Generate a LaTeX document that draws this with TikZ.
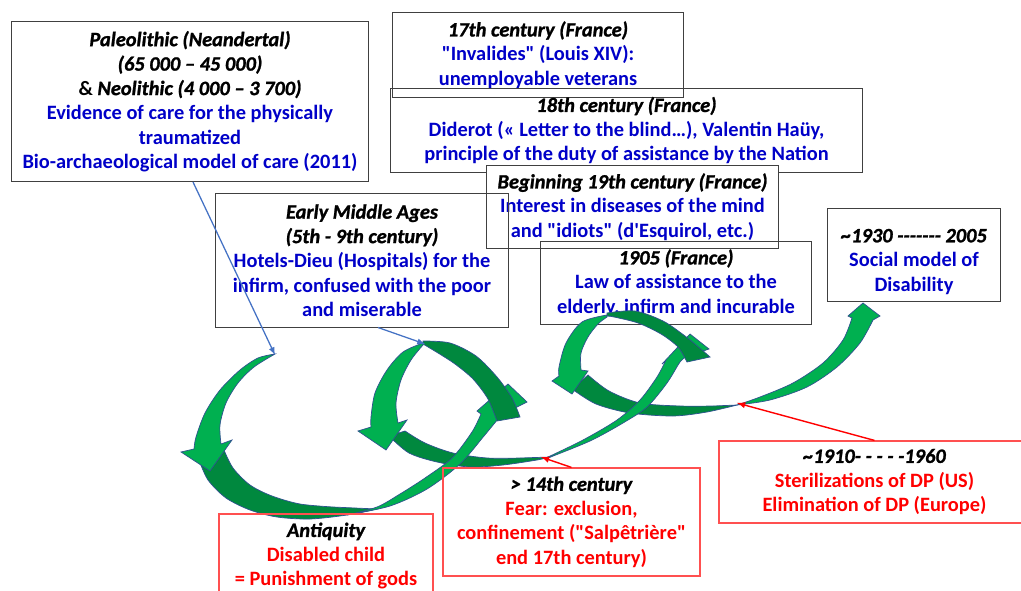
\documentclass[tikz,border=0pt]{standalone}
\usepackage{fontspec}
\setmainfont{Carlito}[Ligatures=TeXOff]
\newfontfamily\erafont{Carlito Bold Italic}[Ligatures=TeXOff, FakeBold=1.2]
\definecolor{txtblue}{RGB}{0,0,200}
\definecolor{txtred}{RGB}{255,0,0}
\definecolor{lightgreen}{RGB}{0,176,80}
\definecolor{darkgreen}{RGB}{0,136,62}
\definecolor{rimblue}{RGB}{47,82,143}
\definecolor{linkblue}{RGB}{68,114,196}
\definecolor{boxgray}{RGB}{64,64,64}
\definecolor{boxred}{RGB}{255,80,80}
\newcommand{\hd}[1]{{\erafont #1}}
\newcommand{\blu}[1]{\textcolor{txtblue}{#1}}
\newcommand{\rd}[1]{\textcolor{txtred}{#1}}

\begin{document}
\begin{tikzpicture}[x=0.025cm, y=-0.025cm, font=\fontsize{14.5}{17.4}\selectfont\bfseries, >=latex,
  era/.style={draw=boxgray, line width=0.7pt, align=center, inner sep=0pt},
  redera/.style={draw=boxred, line width=0.8pt, align=center, inner sep=0pt},
  front/.style={fill=lightgreen, draw=rimblue, line width=0.5pt},
  back/.style={fill=darkgreen, draw=rimblue, line width=0.5pt}]
\useasboundingbox (0,0) rectangle (1021,591);
\node[era, minimum width=8.9cm, minimum height=4cm] (paleo) at (190,101.5)
  {\hd{Paleolithic (Neandertal)}\\ \hd{(65 000 – 45 000)}\\ \& \hd{Neolithic (4 000 – 3 700)}\\
   \blu{Evidence of care for the physically}\\ \blu{traumatized}\\ \blu{Bio-archaeological model of care (2011)}};
\node[era, minimum width=7.25cm, minimum height=2.1cm] (invalides) at (538,55)
  {\hd{17th century (France)}\\ \blu{"Invalides" (Louis XIV):}\\ \blu{unemployable veterans}};
\node[era, minimum width=11.775cm, minimum height=2.075cm] (diderot) at (626.5,130.5)
  {\hd{18th century (France)}\\ \blu{Diderot (« Letter to the blind…), Valentin Haüy,}\\ \blu{principle of the duty of assistance by the Nation}};
\node[era, fill=white, minimum width=7.275cm, minimum height=2.05cm] (esquirol) at (632.5,207)
  {\hd{Beginning 19th century (France)}\\ \blu{Interest in diseases of the mind}\\ \blu{and "idiots" (d'Esquirol, etc.)}};
\node[era, minimum width=7.3cm, minimum height=3.325cm] (middle) at (362,260.5)
  {\hd{Early Middle Ages}\\ \hd{(5th - 9th century)}\\ \blu{Hotels-Dieu (Hospitals) for the}\\
   \blu{infirm, confused with the poor}\\ \blu{and miserable}};
\node[era, minimum width=6.75cm, minimum height=2.05cm] (law) at (676,283)
  {\hd{1905 (France)}\\ \blu{Law of assistance to the}\\ \blu{elderly, infirm and incurable}};
\node[era, minimum width=4.3cm, minimum height=2.3cm] (social) at (914,255)
  {\rule{0pt}{19pt}\hd{\textasciitilde1930 ------- 2005}\\ \blu{Social model of}\\ \blu{Disability}};

\filldraw[back] plot[smooth] coordinates {(199,460) (208,480) (226,498) (250,510) (277,517) (310,519) (347,515) (377,509)}
  -- plot[smooth] coordinates {(333,507) (300,504) (272,496) (250,485) (233,468) (224,450)} -- cycle;
\filldraw[front] plot[smooth] coordinates {(275,354) (258,358) (240,370) (220,390) (205,413) (196,437) (194,449)}
  -- (181,452) -- (210,471) -- (232,440)
  -- plot[smooth] coordinates {(221,444) (220,425) (226,403) (238,383) (254,367) (275,354)} -- cycle;
\filldraw[back] plot[smooth] coordinates {(389,436) (409,453) (437,462) (470,467) (503,465) (537,460) (550,457)}
  -- plot[smooth] coordinates {(520,458) (487,458) (453,453) (425,443) (405,431)} -- cycle;
\filldraw[front] plot[smooth] coordinates {(347,515) (390,506) (427,489) (460,464) (484,436) (499,418) (505,413)}
  -- (527,402) -- (508,384) -- (477,411)
  -- plot[smooth] coordinates {(481,414) (472,432) (452,458) (425,478) (400,494) (377,507) (347,515)} -- cycle;
\filldraw[back] plot[smooth] coordinates {(423,341) (450,343) (476,356) (497,377) (512,398) (520,417)}
  -- plot[smooth] coordinates {(497,421) (488,399) (473,379) (455,364) (438,353) (423,344)} -- cycle;
\filldraw[front] plot[smooth] coordinates {(423,343) (403,352) (387,370) (375,393) (371,417) (371,427)}
  -- (358,431) -- (386,450) -- (407,420)
  -- plot[smooth] coordinates {(398,423) (396,403) (401,380) (411,360) (423,345)} -- cycle;
\filldraw[back] plot[smooth] coordinates {(572,389) (596,404) (630,413) (673,416) (707,412) (737,405)}
  -- plot[smooth] coordinates {(713,406) (680,406) (640,403) (609,391) (588,375)} -- cycle;
\filldraw[front] plot[smooth] coordinates {(548,458) (590,441) (623,423) (647,407) (667,383) (680,362) (686,357)}
  -- (709,349) -- (690,334) -- (662,364)
  -- plot[smooth] coordinates {(666,360) (657,377) (640,400) (617,420) (583,440) (548,457)} -- cycle;
\filldraw[back] plot[smooth] coordinates {(607,313) (635,311) (663,321) (685,336) (702,350) (710,357)}
  -- plot[smooth] coordinates {(687,362) (678,347) (661,334) (638,323) (614,317) (607,316)} -- cycle;
\filldraw[front] plot[smooth] coordinates {(607,315) (582,322) (566,343) (559,367) (559,376)}
  -- (552,381) -- (572,394) -- (588,371)
  -- plot[smooth] coordinates {(581,370) (581,353) (588,337) (598,324) (607,317)} -- cycle;
\filldraw[front] plot[smooth] coordinates {(737,405) (770,400) (807,387) (837,367) (860,343) (873,320)}
  -- (880,316) -- (863,303) -- (848,316)
  -- plot[smooth] coordinates {(852,318) (843,340) (823,363) (793,383) (760,397) (737,405)} -- cycle;

\node[redera, minimum width=5.35cm, minimum height=2.1cm] (antiquity) at (326,556)
  {\hd{Antiquity}\\ \rd{Disabled child}\\ \rd{= Punishment of gods}};
\node[redera, minimum width=6.425cm, minimum height=2.7cm] (fear) at (571.5,522)
  {\hd{> 14th century}\\ \rd{Fear: exclusion,}\\ \rd{confinement ("Salpêtrière"}\\ \rd{end 17th century)}};
\node[redera, minimum width=7.775cm, minimum height=2.05cm] (steril) at (874.5,482)
  {\hd{\textasciitilde1910- - - - -1960}\\ \rd{Sterilizations of DP (US)}\\ \rd{Elimination of DP (Europe)}};

\coordinate (loopA) at (275,355);
\coordinate (loopB) at (425,344);
\coordinate (loopC) at (541,457);
\coordinate (loopD) at (737,403);
\draw[->, linkblue, line width=0.9pt] ([xshift=0.075cm]paleo.south) -- (loopA);
\draw[->, linkblue, line width=0.9pt] ([xshift=0.4cm]middle.south) -- (loopB);
\draw[->, red, line width=1pt] (fear.north) -- (loopC);
\draw[->, red, line width=1pt] (steril.north) -- (loopD);
\end{tikzpicture}
\end{document}
